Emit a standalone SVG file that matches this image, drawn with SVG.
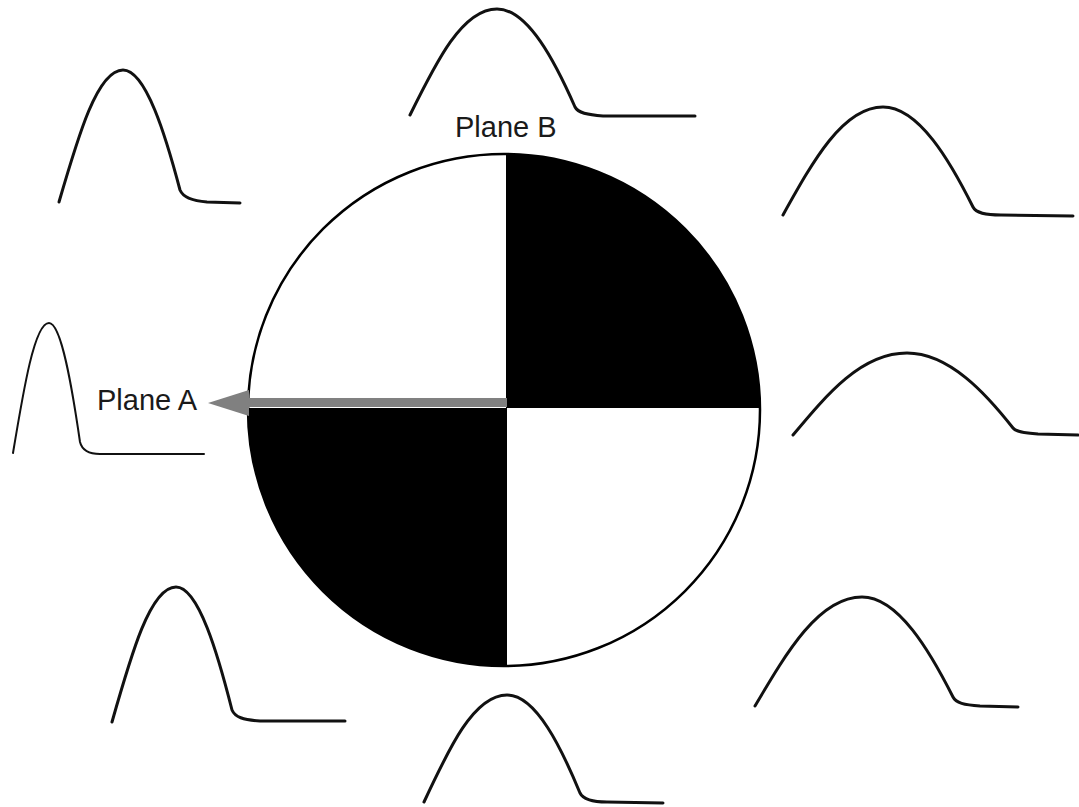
<svg xmlns="http://www.w3.org/2000/svg" width="1079" height="807" viewBox="0 0 1079 807">
<style>
.pulse{fill:none;stroke:#111;stroke-width:3;stroke-linecap:round;stroke-linejoin:round}
.thin{stroke-width:2}
.lbl{font-family:"Liberation Sans",Arial,sans-serif;font-size:29px;fill:#1a1a1a}
</style>
<defs>
<clipPath id="disc"><circle cx="504" cy="410" r="256"/></clipPath>
</defs>
<rect width="1079" height="807" fill="#fff"/>
<g id="disc-target">
<circle cx="504" cy="410" r="256" fill="#fff"/>
<g clip-path="url(#disc)">
<rect x="506" y="140" width="270" height="268" fill="#000"/>
<rect x="230" y="408" width="277" height="270" fill="#000"/>
</g>
<circle cx="504" cy="410" r="256" fill="none" stroke="#000" stroke-width="2.5"/>
</g>
<g id="connectors">
<rect x="246" y="398" width="261" height="9" fill="#808080"/>
<polygon points="208,403 249,390 249,416" fill="#808080"/>
</g>
<g id="label-a"><text class="lbl" x="97" y="410">Plane A</text></g>
<g id="label-b"><text class="lbl" x="455" y="137">Plane B</text></g>
<g id="pulse1"><path class="pulse" d="M59,202 C78.2,136 97.4,70 123,70 C145.8,70 165.75,136 180,190 C183,197 192,201 207,202 L240,203"/></g>
<g id="pulse2"><path class="pulse" d="M410,115 C436.1,62 462.2,9 497,9 C528.2,9 555.5,62.9 575,107 C578,113 587,115 603,116 L695,116"/></g>
<g id="pulse3"><path class="pulse" d="M783,215 C813,161 843,107 883,107 C919,107 950.5,162 973,207 C976,213 985,215 1001,215 L1073,216"/></g>
<g id="pulse4"><path class="pulse thin" d="M13,453 C23.8,388 34.6,323 49,323 C61.4,323 72.25,388.5 80,442 C82,450 88,454 100,454 L204,454"/></g>
<g id="pulse5"><path class="pulse" d="M793,435 C827.2,394 861.4,353 907,353 C949.4,353 986.5,394.25 1013,428 C1016,432 1024,433 1038,434 L1078,435"/></g>
<g id="pulse6"><path class="pulse" d="M112,722 C131.2,654.5 150.4,587 176,587 C198.4,587 218,654.6 232,710 C235,717 243,720 260,721 L345,721"/></g>
<g id="pulse7"><path class="pulse" d="M755,706 C787.1,651.5 819.2,597 862,597 C898.4,597 930.25,652 953,697 C956,703 964,705 980,706 L1018,707"/></g>
<g id="pulse8"><path class="pulse" d="M424,802 C448.9,748.5 473.8,695 507,695 C536.2,695 561.75,748.9 580,793 C583,799 591,802 607,802 L663,803"/></g>
</svg>
